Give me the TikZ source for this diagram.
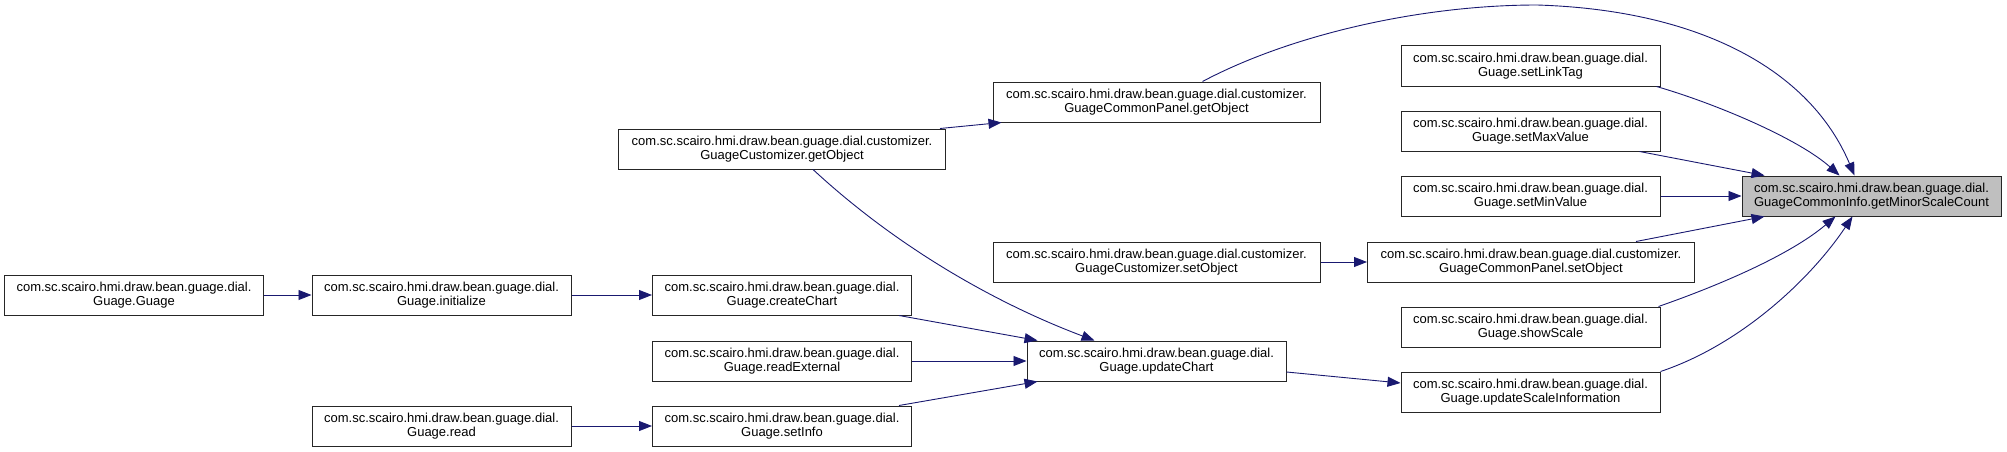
\documentclass[tikz,border=0pt]{standalone}
\usepackage{fontspec}
\setmainfont{Liberation Sans}
\usetikzlibrary{arrows.meta,calc}
\definecolor{edgeblue}{HTML}{191970}
\definecolor{targetgray}{HTML}{BFBFBF}
\begin{document}
\begin{tikzpicture}[x=1pt,y=-1pt,
  fn/.style={draw=black!85,line width=1pt,fill=white,minimum width=259pt,minimum height=40pt,inner sep=0pt,align=center,font=\fontsize{13pt}{14pt}\selectfont},
  fnwide/.style={fn,minimum width=327pt},
  fntarget/.style={fn,fill=targetgray},
  call/.style={draw=edgeblue,line width=0.9pt,-{Triangle[length=13pt,width=10pt]}}
]
\useasboundingbox (0,0) rectangle (2007,452);
% nodes
\node[fn] (guage) at (134,295) {com.sc.scairo.hmi.draw.bean.guage.dial.\\Guage.Guage};
\node[fn] (init) at (441.5,295) {com.sc.scairo.hmi.draw.bean.guage.dial.\\Guage.initialize};
\node[fn] (read) at (441.5,426) {com.sc.scairo.hmi.draw.bean.guage.dial.\\Guage.read};
\node[fn] (create) at (782,295) {com.sc.scairo.hmi.draw.bean.guage.dial.\\Guage.createChart};
\node[fn] (readext) at (782,361) {com.sc.scairo.hmi.draw.bean.guage.dial.\\Guage.readExternal};
\node[fn] (setinfo) at (782,426) {com.sc.scairo.hmi.draw.bean.guage.dial.\\Guage.setInfo};
\node[fnwide] (custget) at (782,149) {com.sc.scairo.hmi.draw.bean.guage.dial.customizer.\\GuageCustomizer.getObject};
\node[fnwide] (panelget) at (1156.5,102) {com.sc.scairo.hmi.draw.bean.guage.dial.customizer.\\GuageCommonPanel.getObject};
\node[fnwide] (custset) at (1156.5,262) {com.sc.scairo.hmi.draw.bean.guage.dial.customizer.\\GuageCustomizer.setObject};
\node[fn] (upchart) at (1156.5,361) {com.sc.scairo.hmi.draw.bean.guage.dial.\\Guage.updateChart};
\node[fn] (link) at (1530.5,66) {com.sc.scairo.hmi.draw.bean.guage.dial.\\Guage.setLinkTag};
\node[fn] (maxv) at (1530.5,131) {com.sc.scairo.hmi.draw.bean.guage.dial.\\Guage.setMaxValue};
\node[fn] (minv) at (1530.5,196) {com.sc.scairo.hmi.draw.bean.guage.dial.\\Guage.setMinValue};
\node[fnwide] (panelset) at (1531,262) {com.sc.scairo.hmi.draw.bean.guage.dial.customizer.\\GuageCommonPanel.setObject};
\node[fn] (show) at (1530.5,327) {com.sc.scairo.hmi.draw.bean.guage.dial.\\Guage.showScale};
\node[fn] (upscale) at (1530.5,392) {com.sc.scairo.hmi.draw.bean.guage.dial.\\Guage.updateScaleInformation};
\node[fntarget] (target) at (1871.5,196) {com.sc.scairo.hmi.draw.bean.guage.dial.\\GuageCommonInfo.getMinorScaleCount};
% edges
\draw[call] (guage) -- (init);
\draw[call] (init) -- (create);
\draw[call] (read) -- (setinfo);
\draw[call] ($(create.south east)+(-13,0)$) -- ($(upchart.north west)+(11,0)$);
\draw[call] (readext) -- (upchart);
\draw[call] ($(setinfo.north east)+(-13,0)$) -- ($(upchart.south west)+(11,0)$);
\draw[call] ($(custget.south)+(31,0)$) .. controls (900,250) and (1000,305) .. ($(upchart.north west)+(68,0)$);
\draw[call] ($(custget.north east)+(-6,0)$) -- ($(panelget.south west)+(9,0)$);
\draw[call] (custset) -- (panelset);
\draw[call] ($(upchart.east)+(0,11)$) -- ($(upscale.west)+(0,-9)$);
\draw[call] ($(panelget.north)+(46,0)$) .. controls (1290,35) and (1420,5) .. (1537,5) .. controls (1700,10) and (1810,70) .. ($(target.north west)+(113,0)$);
\draw[call] ($(link.south east)+(-4,0)$) .. controls (1720,105) and (1800,140) .. ($(target.north west)+(98,0)$);
\draw[call] ($(maxv.south east)+(-21,0)$) -- ($(target.north west)+(23,0)$);
\draw[call] (minv) -- (target);
\draw[call] ($(panelset.north east)+(-59,0)$) -- ($(target.south west)+(23,0)$);
\draw[call] ($(show.north east)+(-2,0)$) .. controls (1720,285) and (1790,255) .. ($(target.south west)+(94,0)$);
\draw[call] ($(upscale.north east)+(0,0)$) .. controls (1740,345) and (1810,280) .. ($(target.south west)+(111,0)$);
\end{tikzpicture}
\end{document}
